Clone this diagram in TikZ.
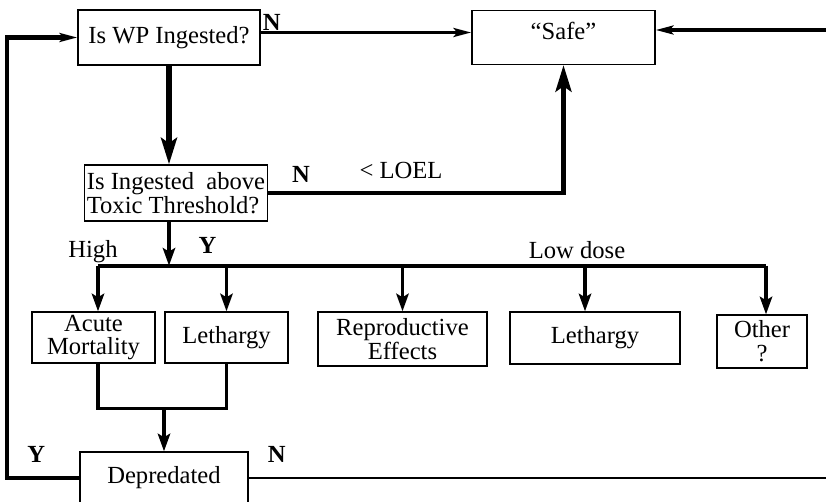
\documentclass[tikz,border=0pt]{standalone}
\usepackage{fontspec}
\setmainfont{Liberation Serif}
\usetikzlibrary{positioning,arrows.meta}
\newcommand{\chartfont}{\fontsize{14pt}{13.6pt}\selectfont}
\begin{document}
\begin{tikzpicture}[
    node distance=1.5cm,
    box/.style={rectangle, draw, line width=0.75pt, inner sep=1pt, align=center, font=\chartfont},
    lbl/.style={inner sep=1pt, font=\chartfont},
    yn/.style={inner sep=1pt, font=\chartfont\bfseries},
    arrow/.style={-{Stealth[length=10pt, width=5pt, inset=2pt]}, line width=2pt},
    midarrow/.style={-{Stealth[length=10pt, width=7pt, inset=2pt]}, line width=2.1pt},
    bigarrow/.style={-{Stealth[length=15pt, width=9pt, inset=3pt]}, line width=3.3pt}
]
    \useasboundingbox (-3.38,0.75) rectangle (13.14,-9.27);

    % Decisions
    \node[box, minimum width=3.64cm, minimum height=1.1cm] (wp) {Is WP Ingested?};
    \node[box, right of=wp, xshift=6.39cm, minimum width=3.66cm, minimum height=1.08cm, text depth=0.28cm] (safe) {“Safe”};
    \node[box, below of=wp, xshift=0.14cm, yshift=-1.61cm, align=left, inner sep=1.5pt, minimum height=1.12cm] (thr) {Is Ingested~ above\\Toxic Threshold?};

    % Effects
    \node[box, below of=thr, xshift=-1.65cm, yshift=-1.39cm, minimum width=2.46cm, minimum height=1.02cm] (acute) {Acute\\Mortality};
    \node[box, right of=acute, xshift=1.16cm, minimum width=2.46cm, minimum height=1.02cm] (leth1) {Lethargy};
    \node[box, right of=leth1, xshift=2.02cm, yshift=-0.03cm, minimum width=3.38cm, minimum height=1.08cm] (repro) {Reproductive\\Effects};
    \node[box, right of=repro, xshift=2.35cm, yshift=0.02cm, minimum width=3.4cm, minimum height=1.04cm] (leth2) {Lethargy};
    \node[box, right of=leth2, xshift=1.84cm, yshift=-0.07cm, minimum width=1.8cm, minimum height=1.06cm] (other) {Other\\?};

    % Outcome
    \node[box, below of=acute, xshift=1.41cm, yshift=-1.31cm, minimum width=3.36cm, minimum height=1.04cm] (depr) {Depredated};

    % Helper points
    \coordinate[below=0.88cm of thr.south] (bar);
    \coordinate[below=0.9cm of acute.south] (merge);
    \coordinate (inR) at (13.22,0.15);

    % Arrows
    \draw[arrow] ([yshift=0.1cm]wp.east) -- ([yshift=0.1cm]wp.east -| safe.west);
    \draw[arrow] (inR) -- (inR -| safe.east);
    \draw[bigarrow] (wp.south) -- (wp.south |- thr.north);
    \draw[bigarrow, line width=2.8pt] (thr.east) -| (safe.south);
    \draw[midarrow] (wp.south |- thr.south) -- (wp.south |- bar);

    \draw[line width=2.3pt] ([xshift=0.09cm]acute.north |- bar) -- ([xshift=0.08cm]other.north |- bar);
    \draw[midarrow] ([xshift=0.09cm]acute.north |- bar) -- ([xshift=0.09cm]acute.north);
    \draw[midarrow] (leth1.north |- bar) -- (leth1.north);
    \draw[midarrow] (repro.north |- bar) -- (repro.north);
    \draw[midarrow] ([xshift=-0.2cm]leth2.north |- bar) -- ([xshift=-0.2cm]leth2.north);
    \draw[midarrow] ([xshift=0.08cm]other.north |- bar) -- ([xshift=0.08cm]other.north);

    \draw[line width=1.9pt] ([xshift=0.09cm]acute.south) -- ([xshift=0.09cm]merge) -| (leth1.south);
    \draw[midarrow] (merge -| depr.north) -- (depr.north);

    \draw[arrow, line width=2.3pt] (depr.west) -- ++(-1.44,0) |- (wp.west);
    \draw[line width=1.1pt] (depr.east) -- (depr.east -| inR);

    % Labels
    \node[yn, anchor=south west] at ([yshift=0.1cm]wp.east) {N};
    \node[yn, above right=0.16cm and 0.43cm of thr.east] {N};
    \node[lbl, above right=0.24cm and 1.78cm of thr.east] {< LOEL};
    \node[yn, anchor=south west] at ([xshift=0.55cm, yshift=0.2cm]wp.south |- bar) {Y};
    \node[lbl, anchor=south] at ([xshift=-0.01cm, yshift=0.02cm]acute.north |- bar) {High};
    \node[lbl, anchor=south] at ([xshift=-0.36cm, yshift=0.1cm]leth2.north |- bar) {Low dose};
    \node[yn, anchor=base] at ([xshift=-0.86cm, yshift=0.32cm]depr.west) {Y};
    \node[yn, anchor=base] at ([xshift=0.56cm, yshift=0.32cm]depr.east) {N};
\end{tikzpicture}
\end{document}
